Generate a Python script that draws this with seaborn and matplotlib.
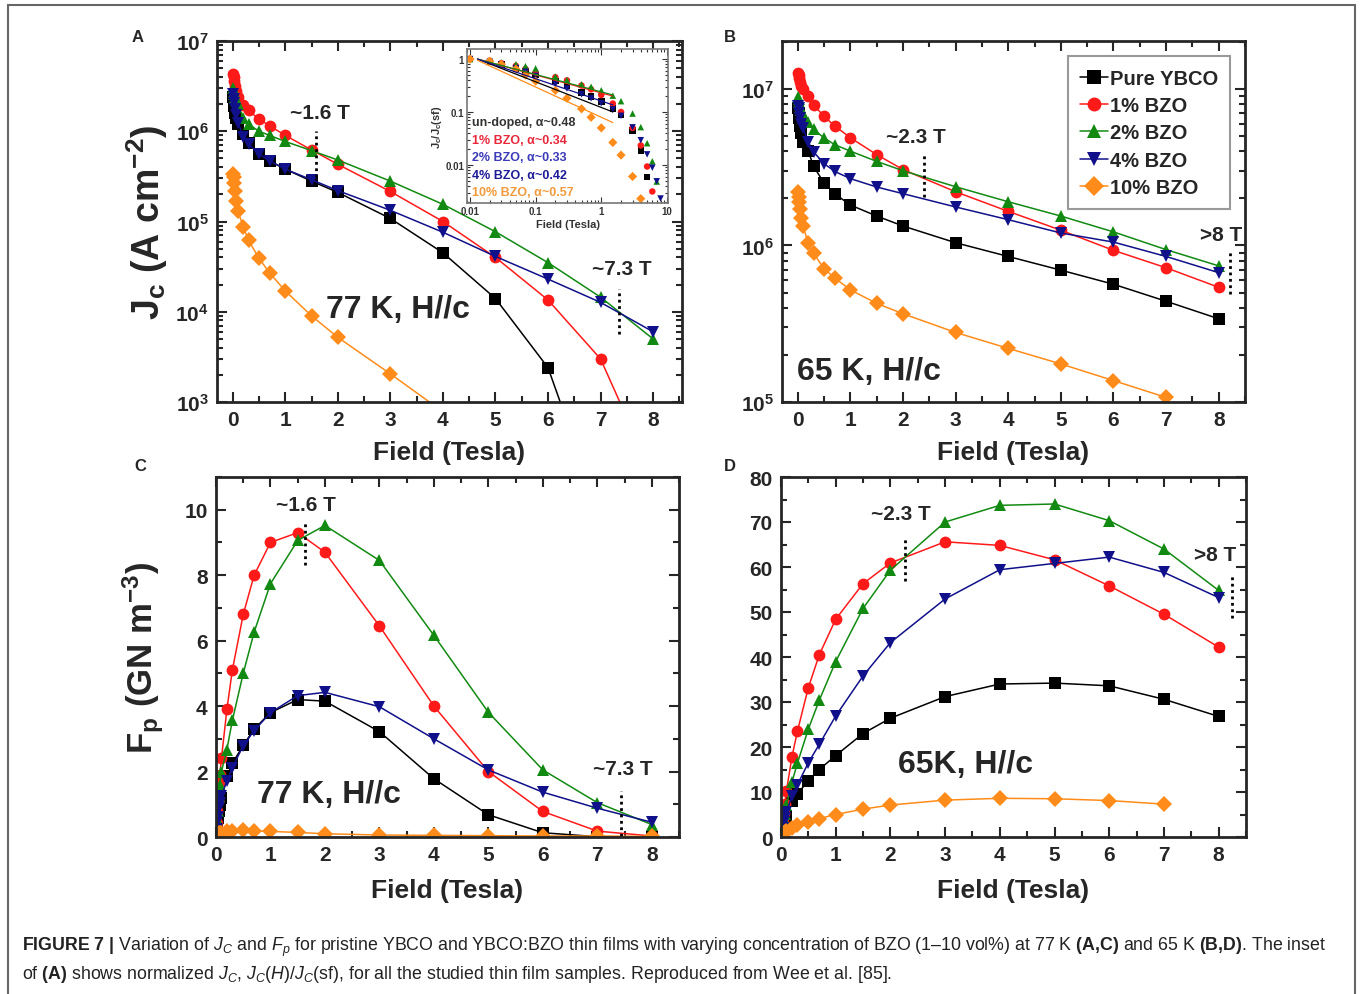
import numpy as np
import pandas as pd
import seaborn as sns
import matplotlib.pyplot as plt
from matplotlib.ticker import MultipleLocator, LogLocator, NullFormatter, FixedLocator
from matplotlib.patches import Rectangle

# ---- data ----
samples = ['Pure YBCO', '1% BZO', '2% BZO', '4% BZO', '10% BZO']
colors = ['#000000', '#ff1a1a', '#128a12', '#10108a', '#ff8c1a']
markers = ['s', 'o', '^', 'v', 'D']

field = [0.01, 0.02, 0.03, 0.05, 0.07, 0.1, 0.2, 0.3, 0.5, 0.7, 1, 1.5, 2, 3, 4, 5, 6, 7, 8]

# Jc (A cm^-2), 77 K
jc77_pure = [2.4e6, 2.1e6, 1.9e6, 1.6e6, 1.4e6, 1.2e6, 9.3e5, 7.5e5, 5.6e5, 4.7e5, 3.8e5, 2.8e5, 2.1e5, 1.08e5, 4.5e4, 1.4e4, 2.4e3, 55, 2]
jc77_1 = [4.3e6, 4.0e6, 3.6e6, 3.2e6, 2.8e6, 2.4e6, 1.95e6, 1.7e6, 1.36e6, 1.15e6, 9.0e5, 6.2e5, 4.3e5, 2.15e5, 1.0e5, 4.0e4, 1.35e4, 3.0e3, 150]
jc77_2 = [3.0e6, 2.75e6, 2.6e6, 2.4e6, 2.2e6, 2.0e6, 1.4e6, 1.2e6, 1.0e6, 9.0e5, 7.7e5, 6.1e5, 4.8e5, 2.8e5, 1.55e5, 7.7e4, 3.5e4, 1.45e4, 5.0e3]
jc77_4 = [2.6e6, 2.3e6, 2.05e6, 1.75e6, 1.5e6, 1.25e6, 8.7e5, 7.2e5, 5.6e5, 4.7e5, 3.8e5, 2.9e5, 2.2e5, 1.33e5, 7.6e4, 4.1e4, 2.3e4, 1.27e4, 6.0e3]
jc77_10 = [3.4e5, 3.1e5, 2.7e5, 2.2e5, 1.7e5, 1.3e5, 8.7e4, 6.2e4, 3.9e4, 2.7e4, 1.7e4, 9.0e3, 5.2e3, 2.05e3, 780, 300, 120, 50, 20]

# Jc (A cm^-2), 65 K
jc65_pure = [7.5e6, 7.0e6, 6.5e6, 5.8e6, 5.2e6, 4.6e6, 4.0e6, 3.2e6, 2.5e6, 2.14e6, 1.81e6, 1.54e6, 1.33e6, 1.04e6, 8.5e5, 6.95e5, 5.65e5, 4.4e5, 3.4e5]
jc65_1 = [1.26e7, 1.23e7, 1.18e7, 1.1e7, 1.04e7, 1.0e7, 9.0e6, 7.9e6, 6.67e6, 5.8e6, 4.87e6, 3.8e6, 3.05e6, 2.2e6, 1.65e6, 1.25e6, 9.3e5, 7.2e5, 5.4e5]
jc65_2 = [8.9e6, 8.6e6, 8.2e6, 7.7e6, 7.3e6, 6.9e6, 6.1e6, 5.5e6, 4.86e6, 4.4e6, 4.0e6, 3.44e6, 3.0e6, 2.37e6, 1.9e6, 1.54e6, 1.22e6, 9.4e5, 7.4e5]
jc65_4 = [7.8e6, 7.5e6, 7.0e6, 6.5e6, 6.0e6, 5.6e6, 4.57e6, 3.95e6, 3.33e6, 2.97e6, 2.67e6, 2.36e6, 2.14e6, 1.76e6, 1.46e6, 1.2e6, 1.05e6, 8.5e5, 6.7e5]
jc65_10 = [2.2e6, 2.05e6, 1.9e6, 1.7e6, 1.5e6, 1.33e6, 1.03e6, 8.9e5, 7.1e5, 6.2e5, 5.2e5, 4.26e5, 3.66e5, 2.78e5, 2.2e5, 1.75e5, 1.37e5, 1.07e5, np.nan]

# Fp (GN m^-3), 77 K
fp77_pure = [0.24, 0.42, 0.57, 0.8, 0.98, 1.2, 1.85, 2.25, 2.8, 3.3, 3.8, 4.2, 4.15, 3.22, 1.78, 0.68, 0.13, 0.01, 0.0]
fp77_1 = [0.43, 0.8, 1.1, 1.6, 1.9, 2.4, 3.9, 5.1, 6.8, 8.0, 9.0, 9.3, 8.7, 6.45, 4.0, 2.0, 0.78, 0.18, 0.03]
fp77_2 = [0.3, 0.55, 0.8, 1.25, 1.6, 2.0, 2.67, 3.56, 5.0, 6.26, 7.74, 9.06, 9.52, 8.45, 6.16, 3.81, 2.05, 1.05, 0.38]
fp77_4 = [0.25, 0.45, 0.62, 0.9, 1.05, 1.25, 1.72, 2.12, 2.79, 3.25, 3.8, 4.32, 4.42, 3.98, 3.0, 2.05, 1.37, 0.88, 0.45]
fp77_10 = [0.03, 0.06, 0.08, 0.11, 0.12, 0.13, 0.17, 0.19, 0.2, 0.19, 0.17, 0.14, 0.1, 0.06, 0.05, 0.04, 0.03, 0.03, 0.02]

# Fp (GN m^-3), 65 K
fp65_pure = [0.75, 1.4, 2.0, 2.9, 3.6, 4.6, 8.0, 9.6, 12.5, 15.0, 18.1, 23.0, 26.4, 31.2, 34.0, 34.2, 33.6, 30.6, 26.8]
fp65_1 = [1.3, 2.4, 3.4, 5.3, 7.3, 10.3, 17.8, 23.5, 33.2, 40.5, 48.4, 56.3, 60.9, 65.6, 64.8, 61.6, 55.8, 49.5, 42.2]
fp65_2 = [0.9, 1.7, 2.5, 3.9, 5.1, 7.2, 12.2, 16.4, 24.0, 30.4, 39.0, 50.8, 59.3, 70.0, 73.7, 74.0, 70.3, 64.0, 54.8]
fp65_4 = [0.8, 1.5, 2.1, 3.3, 4.2, 5.6, 9.1, 11.6, 16.5, 20.6, 26.9, 35.8, 43.2, 52.9, 59.4, 60.8, 62.2, 58.8, 53.2]
fp65_10 = [0.2, 0.4, 0.6, 0.9, 1.1, 1.35, 2.1, 2.6, 3.4, 4.1, 5.0, 6.2, 7.1, 8.2, 8.6, 8.5, 8.1, 7.3, np.nan]

# inset: power-law fit segments (normalised Jc)
fit_field = [0.013, 1.5]
fit_start = [1.0, 1.0, 1.0, 1.0, 0.95]
fit_end = [0.10, 0.20, 0.21, 0.136, 0.063]
inset_labels = ['un-doped, α~0.48', '1% BZO, α~0.34', '2% BZO, α~0.33', '4% BZO, α~0.42', '10% BZO, α~0.57']
inset_colors = ['#333333', '#e8283a', '#3a3ab8', '#1c1c96', '#f39a3c']
inset_ticks = [0.01, 0.1, 1, 10]
inset_ticklabels = ['0.01', '0.1', '1', '10']
inset_yticks = [0.01, 0.1, 1]
inset_yticklabels = ['0.01', '0.1', '1']


def long_frame(series):
    frames = []
    for name, vals in zip(samples, series):
        frames.append(pd.DataFrame({'Field': field, 'val': vals, 'sample': name}))
    return pd.concat(frames, ignore_index=True).dropna()


jc77 = long_frame([jc77_pure, jc77_1, jc77_2, jc77_4, jc77_10])
jc65 = long_frame([jc65_pure, jc65_1, jc65_2, jc65_4, jc65_10])
fp77 = long_frame([fp77_pure, fp77_1, fp77_2, fp77_4, fp77_10])
fp65 = long_frame([fp65_pure, fp65_1, fp65_2, fp65_4, fp65_10])

pal = dict(zip(samples, colors))
mk = dict(zip(samples, markers))

sns.set_style('ticks')
plt.rcParams['font.family'] = ['Liberation Sans', 'DejaVu Sans']
plt.rcParams['font.weight'] = 'bold'
plt.rcParams['axes.labelweight'] = 'bold'
plt.rcParams['mathtext.fontset'] = 'custom'
plt.rcParams['mathtext.rm'] = 'Liberation Sans:weight=normal'
plt.rcParams['mathtext.it'] = 'Liberation Sans:style=italic:weight=normal'
plt.rcParams['mathtext.bf'] = 'Liberation Sans:weight=bold'

W, H = 1362, 995
fig = plt.figure(figsize=(W / 100, H / 100), dpi=100)


def px_axes(left, top, right, bottom):
    return fig.add_axes([left / W, 1 - bottom / H, (right - left) / W, (bottom - top) / H])


axA = px_axes(217, 42, 682, 403)
axB = px_axes(782, 42, 1245, 403)
axC = px_axes(216, 478, 679, 838)
axD = px_axes(781, 478, 1246, 838)


def draw(ax, df, legend=False):
    sns.lineplot(data=df, x='Field', y='val', hue='sample', style='sample',
                 palette=pal, markers=mk, dashes=False, estimator=None, sort=False,
                 markersize=8.5, linewidth=1.1, markeredgewidth=0, legend=legend, ax=ax)


for ax in (axA, axB):
    ax.set_yscale('log')

draw(axA, jc77)
draw(axB, jc65, legend=True)
draw(axC, fp77)
draw(axD, fp65)

axA.set_xlim(-0.3, 8.55)
axA.set_ylim(1e3, 1e7)
axB.set_xlim(-0.3, 8.5)
axB.set_ylim(1e5, 2.02e7)
axC.set_xlim(0, 8.5)
axC.set_ylim(0, 11)
axD.set_xlim(0, 8.5)
axD.set_ylim(0, 80)

for ax in (axA, axB, axC, axD):
    ax.xaxis.set_major_locator(MultipleLocator(1))
    ax.xaxis.set_minor_locator(MultipleLocator(0.5))
    ax.tick_params(which='both', direction='in', top=True, right=True, width=1.5)
    ax.tick_params(which='major', length=7, labelsize=15, pad=6)
    ax.tick_params(which='minor', length=4)
    for sp in ax.spines.values():
        sp.set_linewidth(2)
    ax.set_xlabel('Field (Tesla)', fontsize=19, fontweight='bold')
    ax.set_ylabel('')

for ax in (axA, axB):
    ax.xaxis.set_label_coords(0.5, -0.105)
    ax.yaxis.set_major_locator(LogLocator(base=10))
    ax.yaxis.set_minor_locator(LogLocator(base=10, subs=np.arange(2, 10)))
    ax.yaxis.set_minor_formatter(NullFormatter())
for ax in (axC, axD):
    ax.xaxis.set_label_coords(0.5, -0.115)

axC.yaxis.set_major_locator(MultipleLocator(2))
axC.yaxis.set_minor_locator(MultipleLocator(1))
axD.yaxis.set_major_locator(MultipleLocator(10))
axD.yaxis.set_minor_locator(MultipleLocator(5))

axA.set_ylabel(r'J$_\mathbf{c}$ (A cm$^\mathbf{-2}$)', fontsize=27, fontweight='bold')
axA.yaxis.set_label_coords(-0.1, 0.5)
axC.set_ylabel(r'F$_\mathbf{p}$ (GN m$^\mathbf{-3}$)', fontsize=25, fontweight='bold')
axC.yaxis.set_label_coords(-0.108, 0.5)

# legend in B
handles, labels = axB.get_legend_handles_labels()
leg = axB.legend(handles, labels, loc='upper right', bbox_to_anchor=(0.99, 0.985),
                 frameon=True, fancybox=False, edgecolor='#999999', framealpha=1,
                 prop={'weight': 'bold', 'size': 14.5}, handlelength=1.4,
                 handletextpad=0.1, labelspacing=0.42, borderpad=0.6)
leg.get_frame().set_linewidth(1.5)
for h in leg.legend_handles:
    h.set_markersize(10)

# annotations
def vdot(ax, x, y0, y1):
    ax.vlines(x, y0, y1, colors='k', linestyles=(0, (1, 1.3)), linewidth=2)

ann = dict(fontsize=15, fontweight='bold', ha='center', va='center')
big = dict(fontsize=23, fontweight='bold', ha='center', va='center')

axA.text(1.66, 1.63e6, '~1.6 T', **ann)
vdot(axA, 1.59, 3.1e5, 1.0e6)
axA.text(7.41, 2.98e4, '~7.3 T', **ann)
vdot(axA, 7.35, 5.6e3, 1.8e4)
axA.text(3.14, 1.07e4, '77 K, H//c', **big)

axB.text(2.24, 4.94e6, '~2.3 T', **ann)
vdot(axB, 2.4, 2.05e6, 3.9e6)
axB.text(8.04, 1.17e6, '>8 T', **ann)
vdot(axB, 8.22, 4.9e5, 9.1e5)
axB.text(1.35, 1.57e5, '65 K, H//c', **big)

axC.text(1.66, 10.15, '~1.6 T', **ann)
vdot(axC, 1.64, 8.3, 9.6)
axC.text(7.46, 2.08, '~7.3 T', **ann)
vdot(axC, 7.44, 0.04, 1.42)
axC.text(2.08, 1.31, '77 K, H//c', **big)

axD.text(2.2, 71.9, '~2.3 T', **ann)
vdot(axD, 2.26, 56.8, 66.5)
axD.text(7.94, 62.8, '>8 T', **ann)
vdot(axD, 8.24, 48.6, 58.3)
axD.text(3.38, 16.3, '65K, H//c', **big)

# inset of A
axI = px_axes(467, 50, 668, 204)
norm = jc77.copy()
norm['val'] = norm['val'] / norm.groupby('sample')['val'].transform('first')
sns.scatterplot(data=norm, x='Field', y='val', hue='sample', style='sample',
                palette=pal, markers=mk, s=22, linewidth=0, legend=False, ax=axI)
fits = pd.concat([pd.DataFrame({'Field': fit_field, 'val': [a, b], 'sample': s})
                  for s, a, b in zip(samples, fit_start, fit_end)], ignore_index=True)
sns.lineplot(data=fits, x='Field', y='val', hue='sample', palette=pal, estimator=None,
             linewidth=0.9, legend=False, ax=axI)
axI.set_xscale('log')
axI.set_yscale('log')
axI.set_xlim(0.009, 10.4)
axI.set_ylim(0.0019, 1.55)
axI.xaxis.set_major_locator(FixedLocator(inset_ticks))
axI.set_xticklabels(inset_ticklabels)
axI.yaxis.set_major_locator(FixedLocator(inset_yticks))
axI.set_yticklabels(inset_yticklabels)
axI.xaxis.set_minor_locator(LogLocator(base=10, subs=np.arange(2, 10)))
axI.yaxis.set_minor_locator(LogLocator(base=10, subs=np.arange(2, 10)))
axI.xaxis.set_minor_formatter(NullFormatter())
axI.yaxis.set_minor_formatter(NullFormatter())
axI.tick_params(which='both', direction='in', top=True, right=True, width=0.8,
                colors='#333333', labelsize=7, pad=2)
axI.tick_params(which='major', length=4)
axI.tick_params(which='minor', length=2)
for sp in axI.spines.values():
    sp.set_linewidth(1.2)
    sp.set_edgecolor('#777777')
axI.set_xlabel('Field (Tesla)', fontsize=8, fontweight='bold', color='#333333', labelpad=2)
axI.set_ylabel(r'J$_\mathbf{c}$/J$_\mathbf{c}$(sf)', fontsize=8, fontweight='bold',
               color='#333333', labelpad=1)
for i, (lab, c) in enumerate(zip(inset_labels, inset_colors)):
    axI.text(0.025, 0.526 - i * 0.114, lab, transform=axI.transAxes, fontsize=9,
             fontweight='bold', color=c, ha='left', va='center')

# panel letters
for lab, x, y in [('A', 138, 37), ('B', 730, 37), ('C', 140, 467), ('D', 730, 467)]:
    fig.text(x / W, 1 - y / H, lab, fontsize=12, fontweight='bold', ha='center', va='center')

# caption
line1 = (r'$\mathbf{FIGURE\ 7\ |}$ Variation of $J_C$ and $F_p$ for pristine YBCO and YBCO:BZO thin films '
         r'with varying concentration of BZO (1–10 vol%) at 77 K $\mathbf{(A{,}C)}$ and 65 K $\mathbf{(B{,}D)}$. The inset')
line2 = (r'of $\mathbf{(A)}$ shows normalized $J_C$, $J_C(H)/J_C$(sf), for all the studied thin film samples. '
         r'Reproduced from Wee et al. [85].')
fig.text(22 / W, 1 - 947 / H, line1, fontsize=12.8, fontweight='normal', ha='left', va='center', color='#222222')
fig.text(22 / W, 1 - 975 / H, line2, fontsize=12.8, fontweight='normal', ha='left', va='center', color='#222222')

# outer frame
fig.patches.append(Rectangle((8 / W, -0.02), (1355 - 8) / W, 1 - 6 / H + 0.02,
                             transform=fig.transFigure, fill=False, edgecolor='#666666', linewidth=1.5))

fig.savefig('out.png', dpi=100)
